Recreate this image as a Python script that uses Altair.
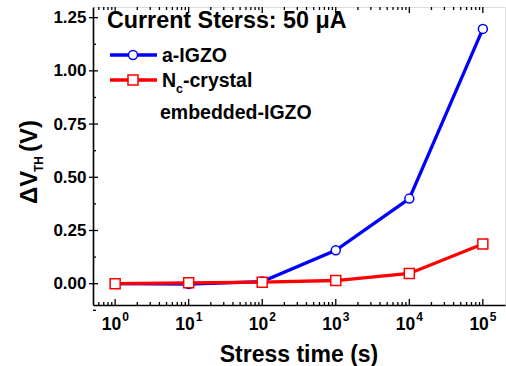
import altair as alt
import pandas as pd

# ---- data ----
times = [1, 10, 100, 1000, 10000, 100000]
a_igzo = [0.0, -0.002, 0.01, 0.157, 0.40, 1.197]
nc_igzo = [0.0, 0.004, 0.007, 0.015, 0.048, 0.187]
y_ticks = [0.0, 0.25, 0.5, 0.75, 1.0, 1.25]
y_minor = [-0.125, 0.125, 0.375, 0.625, 0.875, 1.125]
x_major = [1, 10, 100, 1000, 10000, 100000]
x_exps = ["0", "1", "2", "3", "4", "5"]
x_minor = [m * 10 ** e for e in range(-1, 6) for m in range(2, 10) if 0.55 < m * 10 ** e < 1.9e5]

W, H = 412, 298
FONT = "Liberation Sans"

xscale = alt.Scale(type="log", domain=[0.5, 2e5], nice=False)
yscale = alt.Scale(domain=[-0.1, 1.3], nice=False, zero=False)
xaxis = alt.Axis(labels=False, ticks=False, title=None, grid=False, domainColor="black", domainWidth=1.6)
yaxis = alt.Axis(values=y_ticks, format=".2f", ticks=False, title=None, grid=False,
                 labelFont=FONT, labelFontWeight="bold", labelFontSize=17, labelColor="black",
                 labelPadding=7, domainColor="black", domainWidth=1.6)


def X(f):
    return alt.X(f, type="quantitative", scale=xscale, axis=xaxis)


def Y(f):
    return alt.Y(f, type="quantitative", scale=yscale, axis=yaxis)


df = pd.DataFrame({"t": times * 2,
                   "v": a_igzo + nc_igzo,
                   "s": ["a-IGZO"] * 6 + ["Nc"] * 6})
blue = df[df.s == "a-IGZO"]
red = df[df.s == "Nc"]

layers = []
for d, col, shape, size in [(blue, "#0000FF", "circle", 80), (red, "#FF0000", "square", 100)]:
    layers.append(alt.Chart(d).mark_line(color=col, strokeWidth=3.3).encode(x=X("t"), y=Y("v")))
    layers.append(alt.Chart(d).mark_point(shape=shape, size=size, filled=True, fill="white",
                                          stroke=col, strokeWidth=1.5, opacity=1)
                  .encode(x=X("t"), y=Y("v")))

# ---- ticks drawn inside ----
xmaj = pd.DataFrame({"t": x_major, "e": x_exps})
xmin = pd.DataFrame({"t": x_minor})
layers.append(alt.Chart(xmaj).mark_rule(color="black", strokeWidth=1.3)
              .encode(x=X("t"), y=alt.value(H), y2=alt.value(H - 6)))
layers.append(alt.Chart(xmin).mark_rule(color="black", strokeWidth=1.3)
              .encode(x=X("t"), y=alt.value(H), y2=alt.value(H - 3)))
layers.append(alt.Chart(xmaj).mark_rule(color="black", strokeWidth=1.3)
              .encode(x=X("t"), y=alt.value(0), y2=alt.value(6)))
layers.append(alt.Chart(xmin).mark_rule(color="black", strokeWidth=1.3)
              .encode(x=X("t"), y=alt.value(0), y2=alt.value(3)))
ymaj = pd.DataFrame({"v": y_ticks})
ymin = pd.DataFrame({"v": y_minor})
layers.append(alt.Chart(ymaj).mark_rule(color="black", strokeWidth=1.3)
              .encode(y=Y("v"), x=alt.value(-4), x2=alt.value(5)))
layers.append(alt.Chart(ymin).mark_rule(color="black", strokeWidth=1.3)
              .encode(y=Y("v"), x=alt.value(0), x2=alt.value(3)))

# ---- x tick labels 10^n ----
layers.append(alt.Chart(xmaj).mark_text(text="10", font=FONT, fontWeight="bold", fontSize=17.5,
                                        align="right", baseline="alphabetic", dx=6, color="black")
              .encode(x=X("t"), y=alt.value(323)))
layers.append(alt.Chart(xmaj).mark_text(font=FONT, fontWeight="bold", fontSize=12,
                                        align="left", baseline="alphabetic", dx=7, color="black")
              .encode(x=X("t"), y=alt.value(314), text="e:N"))


def txt(s, x, y, size, align="left", angle=0, weight="bold"):
    kw = dict(text=s, font=FONT, fontWeight=weight, fontSize=size, align=align,
              baseline="alphabetic", color="black")
    if angle:
        kw["angle"] = angle
    return alt.Chart(pd.DataFrame({"a": [0]})).mark_text(**kw).encode(
        x=alt.value(x), y=alt.value(y))


# axis titles
layers.append(txt("Stress time (s)", 206, 355, 23, align="center"))
layers.append(txt("\u0394V", -56, 197, 24, angle=270))
layers.append(txt("TH", -50, 165, 12, angle=270))
layers.append(txt("(V)", -56, 145, 24, angle=270))

# legend
layers.append(txt("Current Sterss: 50 \u03bcA", 14, 21, 23.3))
leg_line = pd.DataFrame({"a": [0]})
layers.append(alt.Chart(leg_line).mark_rule(color="#0000FF", strokeWidth=3.3)
              .encode(x=alt.value(17), x2=alt.value(64), y=alt.value(48)))
layers.append(alt.Chart(leg_line).mark_point(shape="circle", size=80, filled=True, fill="white",
                                             stroke="#0000FF", strokeWidth=1.5, opacity=1)
              .encode(x=alt.value(40), y=alt.value(48)))
layers.append(alt.Chart(leg_line).mark_rule(color="#FF0000", strokeWidth=3.3)
              .encode(x=alt.value(17), x2=alt.value(64), y=alt.value(73)))
layers.append(alt.Chart(leg_line).mark_point(shape="square", size=100, filled=True, fill="white",
                                             stroke="#FF0000", strokeWidth=1.5, opacity=1)
              .encode(x=alt.value(40), y=alt.value(73)))
layers.append(txt("a-IGZO", 69, 55, 19.5))
layers.append(txt("N", 69, 80, 19.5))
layers.append(txt("c", 83, 86, 12.5))
layers.append(txt("-crystal", 90, 80, 19.5))
layers.append(txt("embedded-IGZO", 67, 112, 19.5))

chart = alt.layer(*layers).properties(
    width=W, height=H,
    autosize=alt.AutoSizeParams(type="none"),
    padding={"left": 93, "top": 7, "right": 1, "bottom": 61},
).configure_view(stroke="black", strokeWidth=1.6).configure(background="white")

chart.save("out.html", embed_options={"renderer": "svg", "actions": False})
